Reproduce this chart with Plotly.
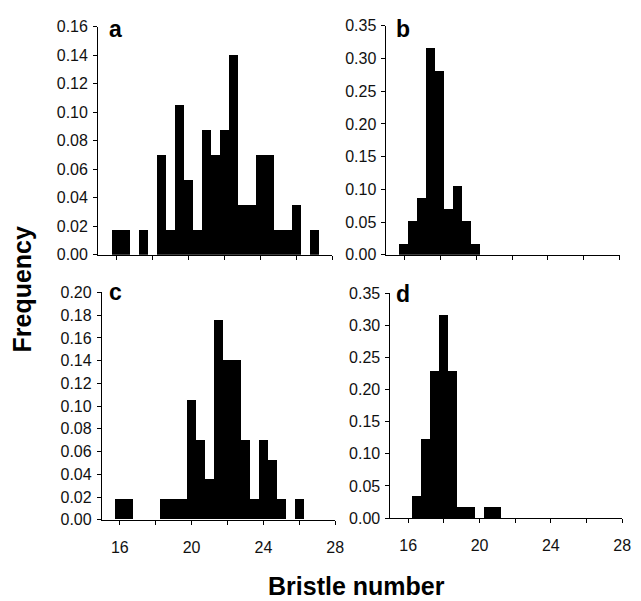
import plotly.graph_objects as go

# ---- data (bin centres in bristle number, frequency) ----
bins_a = [16, 16.5, 17.5, 18.5, 19, 19.5, 20, 20.5, 21, 21.5, 22, 22.5, 23, 23.5, 24, 24.5, 25, 25.5, 26, 27]
freq_a = [0.0175, 0.0175, 0.0175, 0.0702, 0.0175, 0.1053, 0.0526, 0.0175, 0.0877, 0.0702,
          0.0877, 0.1404, 0.0351, 0.0351, 0.0702, 0.0702, 0.0175, 0.0175, 0.0351, 0.0175]

bins_b = [16, 16.5, 17, 17.5, 18, 18.5, 19, 19.5, 20]
freq_b = [0.0175, 0.0526, 0.0877, 0.3158, 0.2807, 0.0702, 0.1053, 0.0526, 0.0175]

bins_c = [16, 16.5, 18.5, 19, 19.5, 20, 20.5, 21, 21.5, 22, 22.5, 23, 23.5, 24, 24.5, 25, 26]
freq_c = [0.0175, 0.0175, 0.0175, 0.0175, 0.0175, 0.1053, 0.0702, 0.0351, 0.1754, 0.1404,
          0.1404, 0.0702, 0.0175, 0.0702, 0.0526, 0.0175, 0.0175]

bins_d = [16.5, 17, 17.5, 18, 18.5, 19, 19.5, 20.5, 21]
freq_d = [0.0351, 0.1228, 0.2281, 0.3158, 0.2281, 0.0175, 0.0175, 0.0175, 0.0175]

panel_labels = ["a", "b", "c", "d"]
x_tickvals = [16, 18, 20, 22, 24, 26, 28]
x_ticktext = ["16", "", "20", "", "24", "", "28"]
y_max = [0.16, 0.35, 0.20, 0.35]
y_step = [0.02, 0.05, 0.02, 0.05]
x_title = "Bristle number"
y_title = "Frequency"

W, H = 641, 601
FONT = "Liberation Sans, Arial, sans-serif"

# pixel boxes of each panel: (left, right, top, bottom)
boxes = [(99.5, 337, 19.3, 254), (392, 628.5, 18.3, 254),
         (103.3, 340, 292.7, 526.7), (396, 631, 293.3, 525)]

fig = go.Figure()
data = [(bins_a, freq_a), (bins_b, freq_b), (bins_c, freq_c), (bins_d, freq_d)]
for i, (bx, fy) in enumerate(data):
    sfx = "" if i == 0 else str(i + 1)
    fig.add_trace(go.Bar(x=bx, y=fy, width=0.5, marker=dict(color="black", line=dict(width=0)),
                         xaxis="x" + sfx, yaxis="y" + sfx, showlegend=False))

layout = dict(width=W, height=H, margin=dict(l=0, r=0, t=0, b=0),
              paper_bgcolor="white", plot_bgcolor="white", bargap=0,
              font=dict(family=FONT, size=16, color="#111"))

for i in range(4):
    sfx = "" if i == 0 else str(i + 1)
    l, r, t, b = boxes[i]
    bottom_row = i >= 2
    layout["xaxis" + sfx] = dict(
        domain=[l / W, r / W], range=[15, 28], anchor="y" + sfx,
        tickmode="array", tickvals=x_tickvals, ticktext=x_ticktext,
        showticklabels=bottom_row, ticks="outside", ticklen=4, tickwidth=1, tickcolor="black",
        ticklabelstandoff=9,
        showline=True, linecolor="black", linewidth=1, showgrid=False, zeroline=False,
        tickfont=dict(size=16, family=FONT, color="#111"), fixedrange=True)
    layout["yaxis" + sfx] = dict(
        domain=[1 - b / H, 1 - t / H], range=[0, y_max[i]], anchor="x" + sfx,
        dtick=y_step[i], tick0=0, tickformat=".2f",
        ticks="outside", ticklen=4, tickwidth=1, tickcolor="black",
        ticklabelstandoff=2,
        showline=True, linecolor="black", linewidth=1, showgrid=False, zeroline=False,
        tickfont=dict(size=16, family=FONT, color="#111"), fixedrange=True)

fig.update_layout(**layout)

label_pos = [(109, 37), (400, 37), (109, 308), (400, 310)]
for lab, (px, py) in zip(panel_labels, label_pos):
    fig.add_annotation(text="<b>%s</b>" % lab, xref="paper", yref="paper",
                       x=px / W, y=1 - py / H, xanchor="left", yanchor="bottom",
                       showarrow=False, font=dict(size=23, family=FONT, color="black"))

fig.add_annotation(text="<b>%s</b>" % y_title, xref="paper", yref="paper",
                   x=22 / W, y=1 - 289 / H, textangle=-90, xanchor="center", yanchor="middle",
                   showarrow=False, font=dict(size=25, family=FONT, color="black"))
fig.add_annotation(text="<b>%s</b>" % x_title, xref="paper", yref="paper",
                   x=362 / W, y=1 - 595 / H, xanchor="center", yanchor="middle",
                   showarrow=False, font=dict(size=25, family=FONT, color="black"))

fig.write_html("out.html")
